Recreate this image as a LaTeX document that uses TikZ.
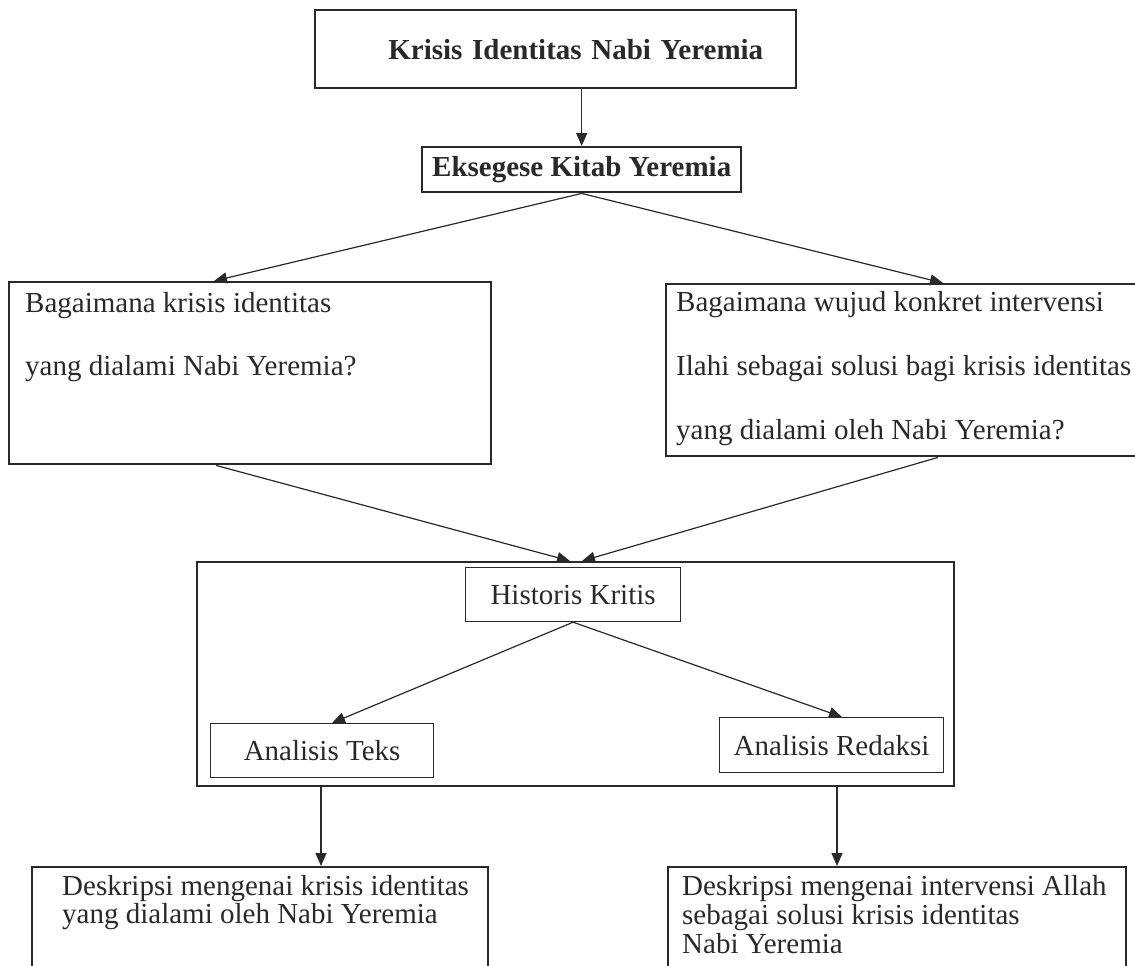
\documentclass[tikz,border=0pt]{standalone}
\usepackage{fontspec}
\setmainfont{Liberation Serif}
\usepackage{xcolor}
\usetikzlibrary{arrows, arrows.meta}
\usetikzlibrary{calc}

\definecolor{ink}{HTML}{2B2828}
\newcommand{\fsz}{\fontsize{29}{29}\selectfont}

\begin{document}
\begin{tikzpicture}[x=1pt, y=-1pt,
    box/.style={draw=ink, line width=2.4pt, anchor=north west, inner sep=0pt, font=\fsz, text=ink},
    sub/.style={draw=ink, line width=1.2pt, anchor=north west, inner sep=0pt, font=\fsz, text=ink},
    txt/.style={anchor=north west, inner sep=0pt, align=left, text=ink},
    arr/.style={draw=ink, line width=1.2pt, -{Triangle[length=13pt, width=11pt]}}]
  \useasboundingbox (0,0) rectangle (1135,966);
  \clip (0,0) rectangle (1135,966);

  \node[box, minimum width=481, minimum height=78, text width=415, align=right, inner xsep=33, font=\fsz\bfseries] (top) at (314,9) {Krisis Identitas Nabi Yeremia};
  \node[box, minimum width=319, minimum height=45, font=\fsz\bfseries] (eks) at (421,146) {Eksegese Kitab Yeremia};

  \node[box, minimum width=482, minimum height=182] (q1) at (8,281) {};
  \node[txt, font=\fontsize{29}{63}\selectfont] (q1txt) at (25,292) {Bagaimana krisis identitas\\yang dialami Nabi Yeremia?};
  \node[box, minimum width=500, minimum height=172] (q2) at (665,283) {};
  \node[txt, font=\fontsize{29}{64}\selectfont] (q2txt) at (676,291) {Bagaimana wujud konkret intervensi\\Ilahi sebagai solusi bagi krisis identitas\\yang dialami oleh Nabi Yeremia?};

  \node[box, minimum width=757, minimum height=224] (hk) at (196,561) {};
  \node[sub, minimum width=215, minimum height=54] (hist) at (465,567) {Historis Kritis};
  \node[sub, minimum width=223, minimum height=54] (teks) at (210,723) {Analisis Teks};
  \node[sub, minimum width=224, minimum height=55] (reda) at (719,717) {Analisis Redaksi};

  \node[box, minimum width=456, minimum height=130] (d1) at (31,866) {};
  \node[txt, font=\fontsize{29}{28}\selectfont] (d1txt) at (62,875) {Deskripsi mengenai krisis identitas\\yang dialami oleh Nabi Yeremia};
  \node[box, minimum width=458, minimum height=130] (d2) at (667,866) {};
  \node[txt, font=\fontsize{29}{29}\selectfont] (d2txt) at (682,875) {Deskripsi mengenai intervensi Allah\\sebagai solusi krisis identitas\\Nabi Yeremia};

  \coordinate (d1in) at ([xshift=290pt]d1.north west);
  \coordinate (d2in) at ([xshift=170pt]d2.north west);

  \draw[arr] (top.south -| eks.north) -- (eks.north);
  \draw[arr] (eks.south) -- ([xshift=206pt]q1.north west);
  \draw[arr] (eks.south) -- ([xshift=278pt]q2.north west);
  \draw[arr] ([xshift=208pt]q1.south west) -- ([xshift=374pt]hk.north west);
  \draw[arr] ([xshift=273pt]q2.south west) -- ([xshift=386pt]hk.north west);
  \draw[arr] (hist.south) -- ([xshift=122pt]teks.north west);
  \draw[arr] (hist.south) -- ([xshift=123pt]reda.north west);
  \draw[arr] (hk.south -| d1in) -- (d1in);
  \draw[arr] (hk.south -| d2in) -- (d2in);
\end{tikzpicture}
\end{document}
